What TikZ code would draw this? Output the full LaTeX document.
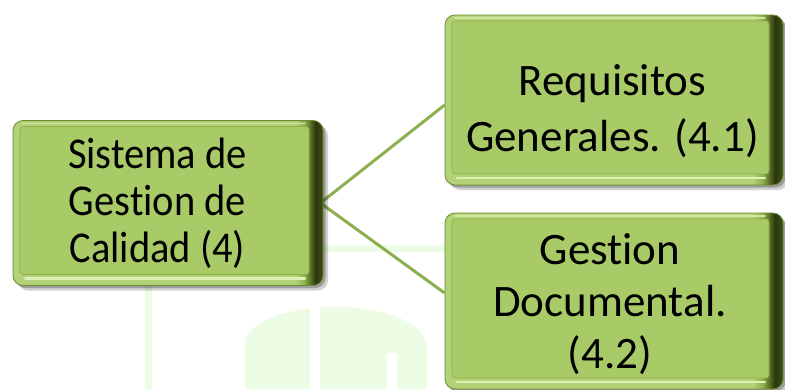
\documentclass[tikz,border=0pt]{standalone}
\usepackage{fontspec}
\setmainfont{Carlito}[Ligatures=NoCommon]
\newfontfamily\narrowfont{Carlito}[Ligatures=NoCommon, FakeStretch=0.92]
\usetikzlibrary{shadows}
\pgfdeclarelayer{background}
\pgfdeclarelayer{watermark}
\pgfsetlayers{watermark,background,main}

\definecolor{face}{HTML}{A8CB68}
\definecolor{rimlight}{HTML}{B2D277}
\definecolor{rimmid}{HTML}{8FB04A}
\definecolor{rimdark}{HTML}{3E4F15}
\definecolor{rimdarkest}{HTML}{2B370C}
\definecolor{rimline}{HTML}{6D8A2E}
\definecolor{glint}{HTML}{DDF0B6}
\definecolor{conncol}{HTML}{8CB050}
\definecolor{wmark}{HTML}{EDFCE4}

% light rim on the left, dark rolled edge on the right
\pgfdeclarehorizontalshading{rimshade}{100bp}{%
  color(0bp)=(rimlight); color(25bp)=(rimlight); color(70.5bp)=(rimlight);
  color(72bp)=(rimmid); color(73.8bp)=(rimdarkest); color(75bp)=(rimdark);
  color(100bp)=(rimdark)}

\tikzset{
  gbox/.style={rounded corners=10pt, draw=rimline, line width=0.8pt,
    shading=rimshade,
    drop shadow={shadow xshift=5pt, shadow yshift=-5pt, opacity=0.18, fill=black},
    drop shadow={shadow xshift=2.5pt, shadow yshift=-2.5pt, opacity=0.25, fill=black},
    path picture={
      \fill[face, rounded corners=3pt]
        ([xshift=7pt,yshift=-6pt]path picture bounding box.north west) rectangle
        ([xshift=-14pt,yshift=11pt]path picture bounding box.south east);
      \draw[rimmid, line width=0.6pt, rounded corners=3pt]
        ([xshift=7pt,yshift=-6pt]path picture bounding box.north west) rectangle
        ([xshift=-14pt,yshift=11pt]path picture bounding box.south east);
      \draw[glint, line width=2.2pt, line cap=round]
        ([xshift=12pt,yshift=7pt]path picture bounding box.south west) --
        ([xshift=-18pt,yshift=7pt]path picture bounding box.south east);
      \draw[glint!70!rimlight, line width=1.4pt, line cap=round]
        ([xshift=10pt,yshift=-3pt]path picture bounding box.north west) --
        ([xshift=-18pt,yshift=-3pt]path picture bounding box.north east);
    }},
  boxtext/.style={align=center, text=black, inner sep=0pt},
  conn/.style={draw=conncol, line width=3pt}
}

\begin{document}
\begin{tikzpicture}[x=1pt,y=-1pt]
\useasboundingbox (0,0) rectangle (785,389);

% faint emblem behind the chart
\begin{pgfonlayer}{watermark}
  \fill[wmark] (145,245) rectangle (447,252);
  \fill[wmark] (145,245) rectangle (152,389);
  \fill[wmark] (245,389) -- (245,342) .. controls (250,318) and (295,307) .. (336,307)
    .. controls (380,307) and (422,320) .. (427,345) -- (427,389) -- cycle;
  \fill[white] (310,300) rectangle (320,389);
  \fill[white] (387,353) rectangle (397,389);
\end{pgfonlayer}

% boxes
\node[gbox, minimum width=310pt, minimum height=165pt] (sgc) at (168,203) {};
\node[gbox, minimum width=338pt, minimum height=170pt] (req) at (614,100) {};
\node[gbox, minimum width=338pt, minimum height=176pt] (doc) at (614,301) {};

% labels
\node[boxtext, font=\narrowfont\fontsize{44}{47}\selectfont] (sgc-t) at (157.5,203)
  {Sistema de\\Gestion de\\Calidad (4)};
\node[boxtext, font=\fontsize{45}{56}\selectfont] (req-t) at (612.5,111)
  {Requisitos\\Generales. (4.1)};
\node[boxtext, font=\fontsize{45}{52}\selectfont] (doc-t) at (610,304)
  {Gestion\\Documental.\\(4.2)};

% connectors
\begin{pgfonlayer}{background}
  \draw[conn] ([xshift=-3pt]sgc.east) -- ([yshift=-5pt]req.west);
  \draw[conn] ([xshift=-3pt]sgc.east) -- ([yshift=8pt]doc.west);
\end{pgfonlayer}
\end{tikzpicture}
\end{document}
